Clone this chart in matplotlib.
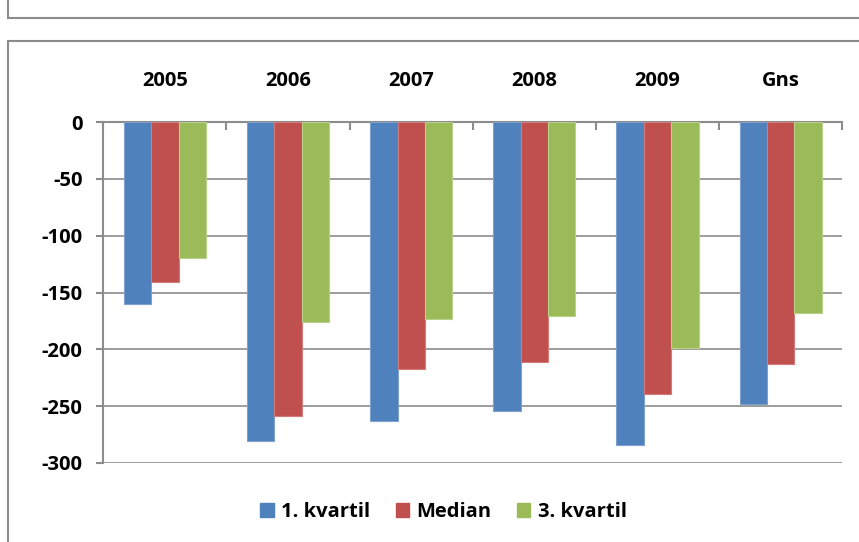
import matplotlib.pyplot as plt
from matplotlib.lines import Line2D
from matplotlib.patches import Patch
import numpy as np

# === Data === #
categories = ["2005", "2006", "2007", "2008", "2009", "Gns"]
kvartil_1 = [-160, -281, -263, -254, -284, -248]
median = [-141, -259, -217, -211, -239, -213]
kvartil_3 = [-120, -176, -173, -171, -199, -168]

series_names = ["1. kvartil", "Median", "3. kvartil"]
colors = ["#4F81BD", "#C0504D", "#9BBB59"]
edges = ["#7EA1CF", "#D47B79", "#B8D08A"]

plt.rcParams['font.family'] = ['Open Sans', 'DejaVu Sans']
plt.rcParams['font.weight'] = 'bold'
FS = 14.5

W, H = 859, 542
fig = plt.figure(figsize=(W / 100, H / 100), dpi=100)

# axes placed in pixel terms
left, right, top, bottom = 103.3, 842.3, 122, 463
ax = fig.add_axes([left / W, 1 - bottom / H, (right - left) / W, (bottom - top) / H])

x = np.arange(len(categories))
bw = 2 / 9
for i, vals in enumerate([kvartil_1, median, kvartil_3]):
    ax.bar(x + (i - 1) * bw, vals, width=bw, color=colors[i], edgecolor=edges[i],
           linewidth=0.8, label=series_names[i], zorder=3)

ax.set_xlim(-0.5, len(categories) - 0.5)
ax.set_ylim(-300, 0)
ax.set_yticks(np.arange(-300, 1, 50))
ax.set_yticklabels([str(v) for v in np.arange(-300, 1, 50)], fontsize=FS, fontweight='bold')
ax.yaxis.grid(True, color="#8C8C8C", linewidth=1.2, zorder=0)

# category labels on top, separator ticks pointing down
ax.xaxis.tick_top()
ax.set_xticks(x)
ax.set_xticklabels(categories, fontsize=FS, fontweight='bold')
ax.tick_params(axis='x', which='major', length=0, pad=22)
ax.set_xticks(np.arange(-0.5, len(categories)), minor=True)
ax.tick_params(axis='x', which='minor', direction='in', length=6, width=1.5,
               color="#8C8C8C", top=True, bottom=False)
ax.tick_params(axis='y', length=5, width=1.5, color="#8C8C8C", pad=10)

for s in ['right', 'bottom']:
    ax.spines[s].set_visible(False)
for s in ['top', 'left']:
    ax.spines[s].set_color("#8C8C8C")
    ax.spines[s].set_linewidth(1.5)

handles = [Patch(facecolor=c, edgecolor=c) for c in colors]
fig.legend(handles, series_names, loc='center', bbox_to_anchor=(443.5 / W, 1 - 512 / H),
           ncol=3, frameon=False, prop={'size': FS, 'weight': 'bold'},
           handlelength=0.65, handleheight=0.65, handletextpad=0.35, columnspacing=1.3)

# chart border and fragment of the chart above
gray = "#8C8C8C"
fig.add_artist(Line2D([8 / W, 8 / W], [1, 1 - 18 / H], color=gray, lw=1.5))
fig.add_artist(Line2D([8 / W, 1], [1 - 18 / H, 1 - 18 / H], color=gray, lw=1.5))
fig.add_artist(Line2D([8 / W, 8 / W], [1 - 41 / H, 0], color=gray, lw=1.5))
fig.add_artist(Line2D([8 / W, 1], [1 - 41 / H, 1 - 41 / H], color=gray, lw=1.5))

fig.savefig("out.png", dpi=100)
